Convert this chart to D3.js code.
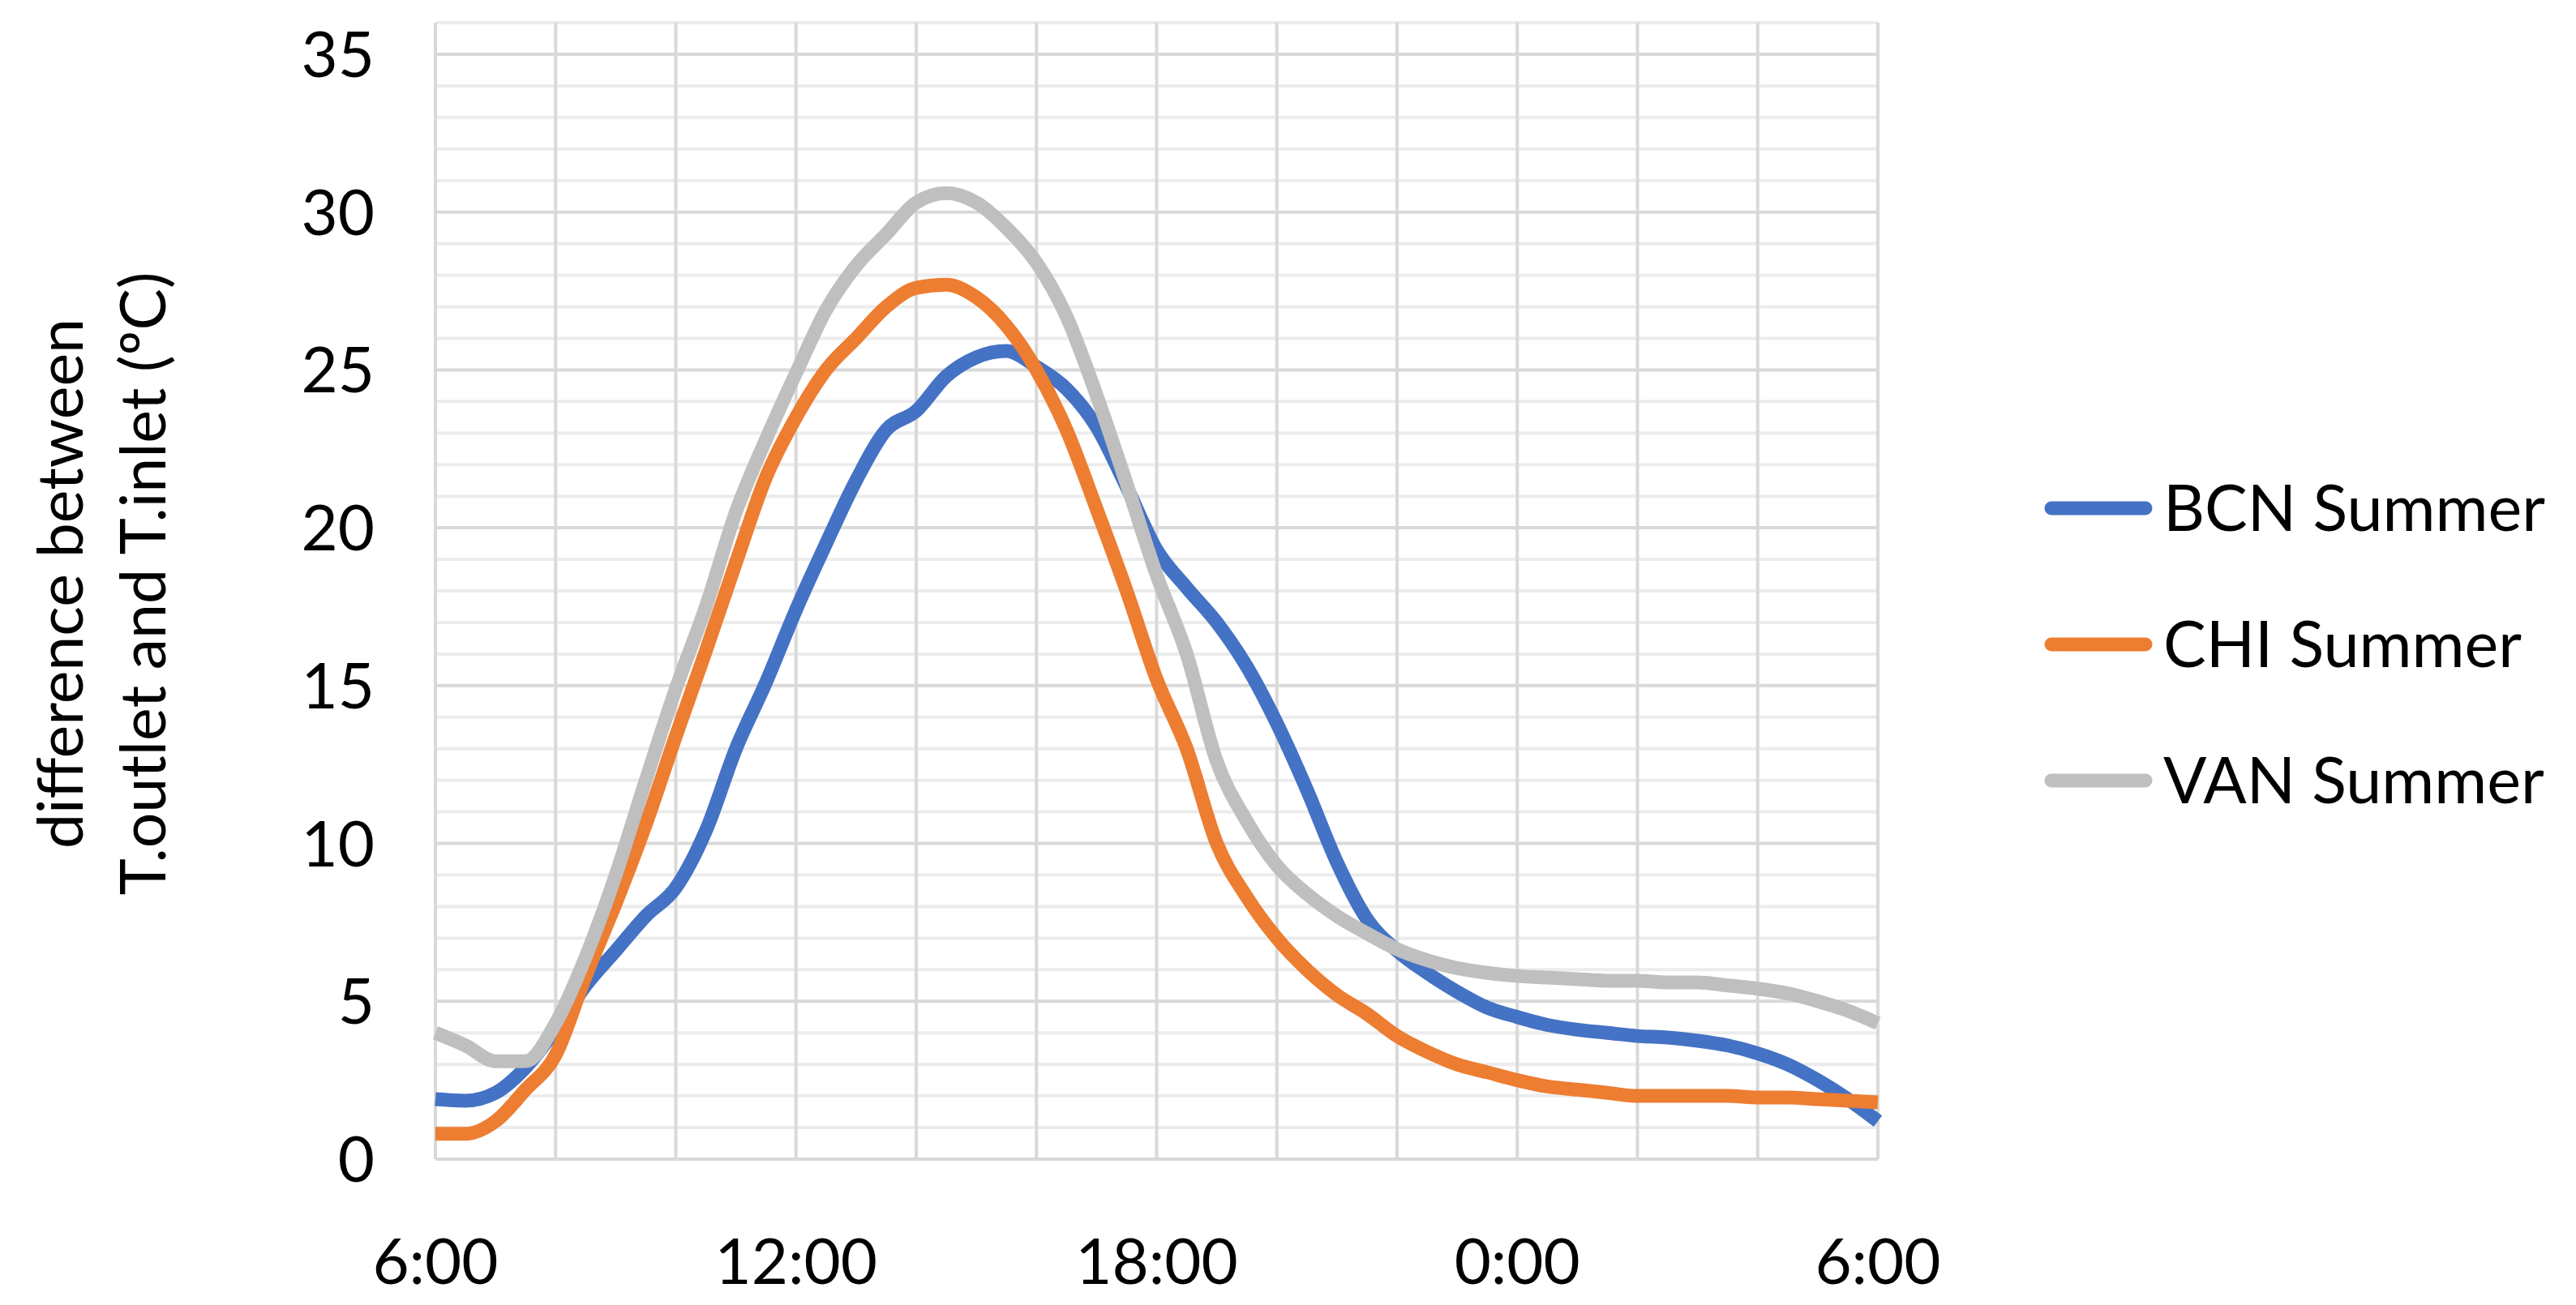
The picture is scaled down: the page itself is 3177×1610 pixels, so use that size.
<!DOCTYPE html>
<meta charset="utf-8">
<head>
    <script type="text/javascript" src="https://cdn.jsdelivr.net/npm/d3@7"></script>
    <style>
        body { margin: 0; background: #fff; }
        text { font-family: Lato, "Open Sans", sans-serif; fill: #000; }
    </style>
</head>
<body>
<div id="chart"></div>
<script>

    // hours after 6:00, one reading every half hour
    let hours = [0, 0.5, 1, 1.5, 2, 2.5, 3, 3.5, 4, 4.5, 5, 5.5, 6, 6.5, 7, 7.5, 8, 8.5, 9, 9.5,
        10, 10.5, 11, 11.5, 12, 12.5, 13, 13.5, 14, 14.5, 15, 15.5, 16, 16.5, 17, 17.5, 18, 18.5,
        19, 19.5, 20, 20.5, 21, 21.5, 22, 22.5, 23, 23.5, 24];

    let bcn = [1.9, 1.85, 2.1, 2.9, 4.1, 5.5, 6.6, 7.7, 8.6, 10.4, 13.0, 15.1, 17.4, 19.5, 21.5, 23.1,
        23.7, 24.8, 25.4, 25.6, 25.1, 24.4, 23.2, 21.3, 19.3, 18.1, 17.0, 15.6, 13.8, 11.7, 9.4, 7.6,
        6.6, 5.9, 5.3, 4.8, 4.5, 4.25, 4.1, 4.0, 3.9, 3.85, 3.75, 3.6, 3.35, 3.0, 2.5, 1.9, 1.2];

    let chi = [0.8, 0.8, 1.2, 2.2, 3.3, 5.8, 8.1, 10.6, 13.4, 16.1, 18.9, 21.6, 23.5, 25.0, 26.0, 27.0,
        27.6, 27.7, 27.3, 26.4, 25.0, 23.1, 20.6, 18.0, 15.2, 13.0, 10.0, 8.3, 7.0, 6.0, 5.2, 4.6,
        3.9, 3.4, 3.0, 2.75, 2.5, 2.3, 2.2, 2.1, 2.0, 2.0, 2.0, 2.0, 1.95, 1.95, 1.9, 1.85, 1.8];

    let van = [4.0, 3.6, 3.1, 3.1, 4.3, 6.4, 9.0, 12.0, 14.9, 17.5, 20.5, 22.8, 24.9, 26.9, 28.3, 29.3,
        30.3, 30.6, 30.3, 29.5, 28.4, 26.7, 24.2, 21.4, 18.5, 16.0, 12.6, 10.7, 9.3, 8.4, 7.7, 7.15,
        6.65, 6.3, 6.05, 5.9, 5.8, 5.75, 5.7, 5.65, 5.65, 5.6, 5.6, 5.5, 5.4, 5.25, 5.0, 4.7, 4.3];

    let seriesNames = ["BCN Summer", "CHI Summer", "VAN Summer"];
    let seriesColors = ["#4472C4", "#ED7D31", "#BFBFBF"];

    let xTickHours = [0, 6, 12, 18, 24];
    let xTickLabels = ["6:00", "12:00", "18:00", "0:00", "6:00"];
    let yTicks = [0, 5, 10, 15, 20, 25, 30, 35];

    let width = 3177;
    let height = 1610;
    let plot = { left: 537, right: 2316, top: 28, bottom: 1430 };

    let svg = d3.select("#chart")
        .append("svg")
        .attr("width", width)
        .attr("height", height);

    let x = d3.scaleLinear().domain([0, 24]).range([plot.left, plot.right]);
    let y = d3.scaleLinear().domain([0, 36]).range([plot.bottom, plot.top]);

    // minor horizontal gridlines (every 1)
    svg.append("g")
        .selectAll("line")
        .data(d3.range(1, 37).filter(v => v % 5 !== 0))
        .enter()
        .append("line")
        .attr("x1", plot.left).attr("x2", plot.right)
        .attr("y1", d => y(d)).attr("y2", d => y(d))
        .attr("stroke", "#ececec")
        .attr("stroke-width", 4);

    // major horizontal gridlines
    svg.append("g")
        .selectAll("line")
        .data(d3.range(0, 36, 5))
        .enter()
        .append("line")
        .attr("x1", plot.left).attr("x2", plot.right)
        .attr("y1", d => y(d)).attr("y2", d => y(d))
        .attr("stroke", "#d9d9d9")
        .attr("stroke-width", 4);

    // vertical gridlines every 2 hours
    svg.append("g")
        .selectAll("line")
        .data(d3.range(0, 25, 2))
        .enter()
        .append("line")
        .attr("x1", d => x(d)).attr("x2", d => x(d))
        .attr("y1", plot.top).attr("y2", plot.bottom)
        .attr("stroke", "#d9d9d9")
        .attr("stroke-width", 4);

    // y tick labels
    svg.append("g")
        .selectAll("text")
        .data(yTicks)
        .enter()
        .append("text")
        .attr("x", 462)
        .attr("y", d => y(d))
        .attr("dy", "0.36em")
        .attr("text-anchor", "end")
        .style("font-size", "78px")
        .text(d => d);

    // x tick labels
    svg.append("g")
        .selectAll("text")
        .data(xTickHours)
        .enter()
        .append("text")
        .attr("x", d => x(d))
        .attr("y", 1584)
        .attr("text-anchor", "middle")
        .style("font-size", "78px")
        .text((d, i) => xTickLabels[i]);

    // y axis title, two lines
    let titleLines = ["difference between", "T.outlet and T.inlet (ºC)"];
    svg.append("g")
        .selectAll("text")
        .data(titleLines)
        .enter()
        .append("text")
        .attr("transform", (d, i) => "translate(" + (102 + i * 102) + ",720) rotate(-90)")
        .attr("text-anchor", "middle")
        .style("font-size", "77px")
        .text(d => d);

    // series lines
    let allSeries = [bcn, chi, van];
    let line = d3.line()
        .x((d, i) => x(hours[i]))
        .y(d => y(d))
        .curve(d3.curveMonotoneX);

    for (let s = 0; s < allSeries.length; s = s + 1) {
        svg.append("path")
            .datum(allSeries[s])
            .attr("d", line)
            .attr("fill", "none")
            .attr("stroke", seriesColors[s])
            .attr("stroke-width", 17)
            .attr("stroke-linejoin", "round");
    }

    // legend
    for (let i = 0; i < seriesNames.length; i = i + 1) {
        let ly = 627 + i * 168;

        svg.append("line")
            .attr("x1", 2530).attr("x2", 2646)
            .attr("y1", ly).attr("y2", ly)
            .attr("stroke", seriesColors[i])
            .attr("stroke-width", 17)
            .attr("stroke-linecap", "round");

        svg.append("text")
            .attr("x", 2668)
            .attr("y", ly)
            .attr("dy", "0.36em")
            .style("font-size", "79px")
            .text(seriesNames[i]);
    }

</script>
</body>
